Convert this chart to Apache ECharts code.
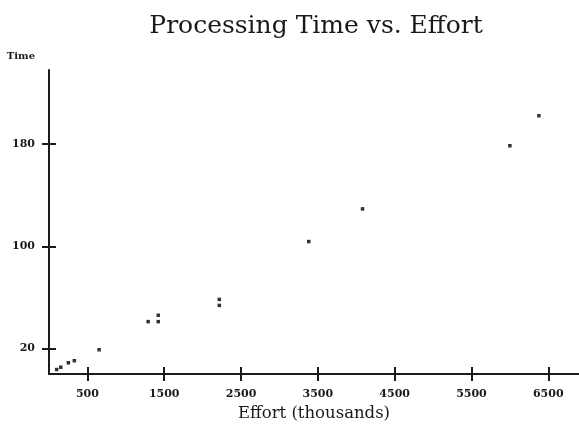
<!DOCTYPE html>
<html>
<head>
<meta charset="utf-8">
<script src="https://cdn.jsdelivr.net/npm/echarts@6/dist/echarts.min.js"></script>
<style>html,body{margin:0;padding:0;background:#fff}#c{width:579px;height:425px}</style>
</head>
<body>
<div id="c"></div>
<script>
const effort = [100, 153, 252, 330, 652, 1291, 1422, 1422, 2217, 2217, 3382, 4082, 6000, 6378];
const time   = [3.5, 5.3, 8.8, 10.4, 19, 41, 46, 41, 58.4, 53.7, 103.7, 129.3, 178.7, 202.2];
const xTicks = [500, 1500, 2500, 3500, 4500, 5500, 6500];
const yTicks = [20, 100, 180];
const titleText = 'Processing Time vs. Effort';
const xName = 'Effort (thousands)';
const yName = 'Time';

const points = effort.map((e, i) => [e, time[i]]);
const ink = '#1a1a1a';
const labelFont = {fontFamily: 'DejaVu Serif', fontWeight: 'bold', fontSize: 11, color: ink};

function xAx(inside, show) {
  return {
    type: 'value', min: 0, max: 6900, position: 'bottom',
    axisLine: {show: show, lineStyle: {color: ink, width: 2}},
    axisTick: {show: true, inside: inside, length: 7, customValues: xTicks, lineStyle: {color: ink, width: 2}},
    axisLabel: {show: show, customValues: xTicks, margin: 15, formatter: v => String(v), ...labelFont},
    splitLine: {show: false},
    name: show ? xName : '', nameLocation: 'middle', nameGap: 31,
    nameTextStyle: {fontFamily: 'DejaVu Serif', fontSize: 16.5, color: ink}
  };
}
function yAx(inside, show) {
  return {
    type: 'value', min: 0, max: 238, position: 'left',
    axisLine: {show: show, lineStyle: {color: ink, width: 2}},
    axisTick: {show: true, inside: inside, length: 7, customValues: yTicks, lineStyle: {color: ink, width: 2}},
    axisLabel: {show: show, customValues: yTicks, margin: 14, formatter: v => String(v), ...labelFont},
    splitLine: {show: false},
    name: show ? yName : '', nameLocation: 'end', nameGap: 9,
    nameTextStyle: {fontFamily: 'DejaVu Serif', fontWeight: 'bold', fontSize: 10, color: ink, align: 'right', padding: [0, 14, 0, 0]}
  };
}

const chart = echarts.init(document.getElementById('c'), null, {renderer: 'canvas'});
chart.setOption({
  animation: false,
  backgroundColor: '#fff',
  title: {
    text: titleText, left: 311, textAlign: 'center', top: 9,
    textStyle: {fontFamily: 'DejaVu Serif', fontWeight: 'normal', fontSize: 25, color: ink}
  },
  grid: {left: 49, right: 0, top: 70, bottom: 51, containLabel: false, outerBoundsMode: 'none'},
  xAxis: [xAx(false, true), xAx(true, false)],
  yAxis: [yAx(false, true), yAx(true, false)],
  series: [{
    type: 'scatter', xAxisIndex: 0, yAxisIndex: 0,
    data: points, symbol: 'rect', symbolSize: 3.5,
    itemStyle: {color: '#000'}
  }]
});
</script>
</body>
</html>
